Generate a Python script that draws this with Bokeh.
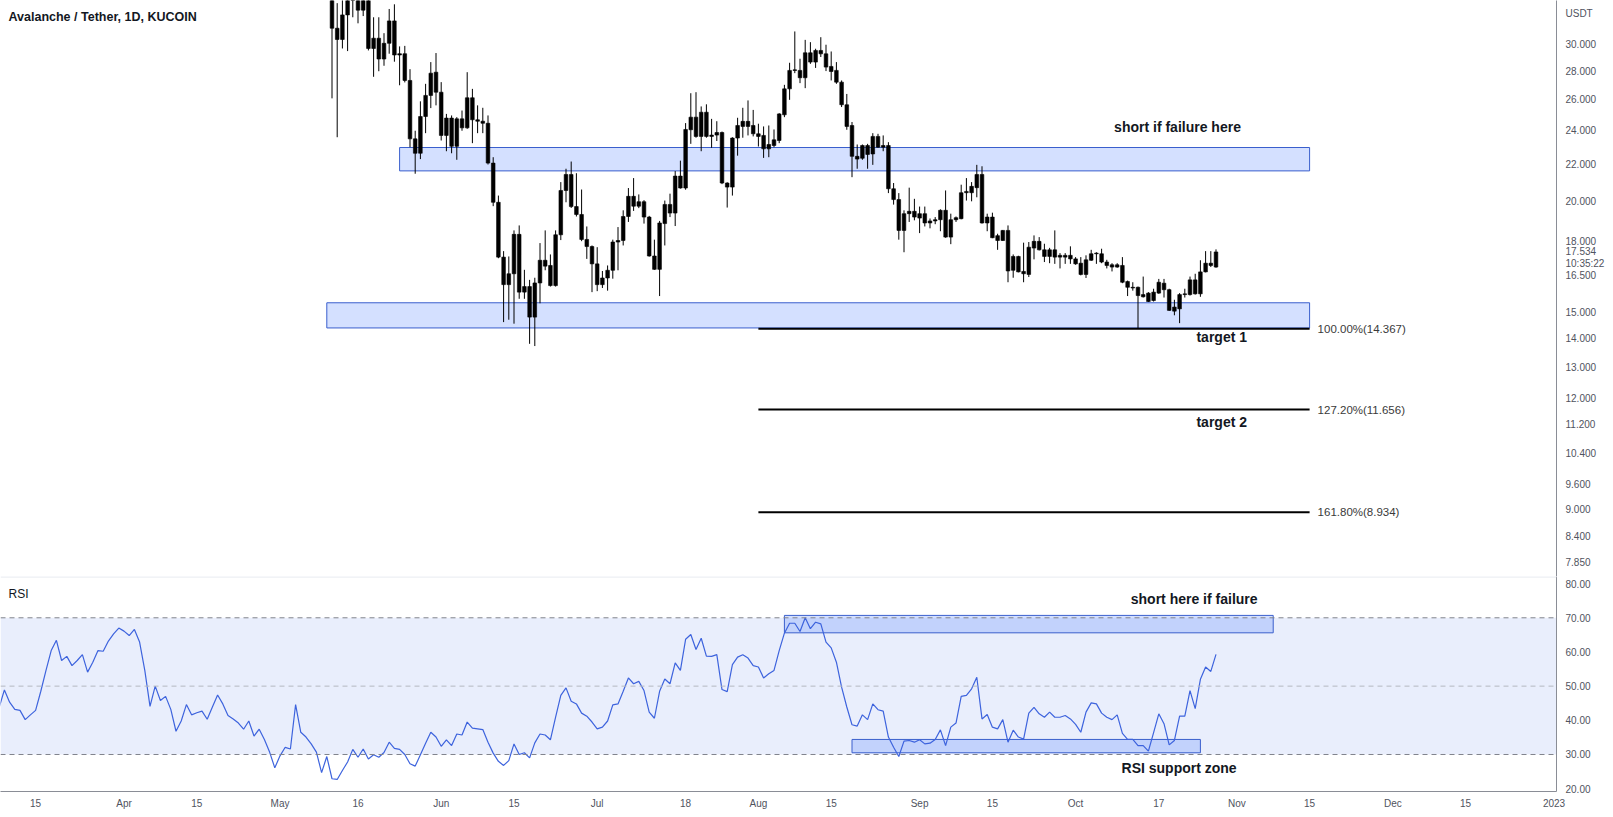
from datetime import date
from bokeh.plotting import figure
from bokeh.layouts import column
from bokeh.models import (Range1d, FixedTicker, PrintfTickFormatter, Label, BoxAnnotation,
                          Span, ColumnDataSource)
from bokeh.embed import file_html
from bokeh.resources import INLINE

# ---------------- data ----------------
title_text = "Avalanche / Tether, 1D, KUCOIN"

candle_start = "2022-05-11"   # daily candles, consecutive days
opens = [36.8, 31.3, 30.4, 32.4, 34.5, 34.8, 32.8, 34.2, 29.7, 30.5,
         28.9, 30.1, 31.9, 29.2, 29.3, 27.34, 23.5, 22.64, 24.9, 26.3,
         27.93, 26.52, 23.71, 24.8, 23.05, 24.75, 24.18, 26.14, 24.69, 24.6,
         24.47, 22.07, 19.94, 17.3, 16.11, 16.57, 18.35, 15.8, 16.03, 14.81,
         16.18, 17.16, 16.93, 16.07, 18.33, 20.56, 21.43, 19.72, 19.32, 18.11,
         17.78, 17.0, 16.11, 16.39, 16.72, 17.99, 18.06, 19.22, 20.25, 19.74,
         19.97, 19.19, 17.35, 16.76, 18.87, 19.83, 19.39, 21.34, 20.69, 24.06,
         24.86, 23.65, 25.18, 23.65, 23.73, 23.89, 20.96, 20.74, 23.55, 24.27,
         24.59, 24.33, 23.81, 23.71, 22.9, 23.1, 23.4, 25.01, 26.75, 28.06,
         28.06, 27.53, 29.37, 28.67, 29.55, 29.29, 28.35, 28.06, 27.22, 25.67,
         24.33, 22.46, 22.35, 23.1, 22.6, 23.65, 23.0, 23.1, 20.65, 20.08,
         18.54, 19.36, 19.48, 19.14, 19.36, 18.9, 19.0, 19.06, 19.53, 18.22,
         19.06, 19.11, 20.44, 20.44, 20.71, 21.43, 18.9, 19.19, 18.29, 18.06,
         18.54, 16.72, 17.33, 16.67, 16.54, 17.71, 18.02, 17.63, 17.33, 17.63,
         17.3, 17.38, 17.38, 17.22, 17.03, 16.54, 17.16, 17.45, 17.45, 17.08,
         16.96, 16.86, 16.93, 16.24, 16.0, 16.0, 15.61, 15.76, 15.46, 15.76,
         16.17, 15.9, 15.04, 15.13, 15.7, 15.7, 16.31, 15.73, 16.65, 17.03,
         16.86]
highs = [38.0, 33.4, 34.2, 35.5, 36.2, 35.4, 34.8, 34.5, 32.2, 32.2,
         30.9, 32.9, 33.3, 29.86, 29.9, 28.15, 24.0, 25.9, 27.1, 28.67,
         29.35, 27.22, 25.07, 24.97, 24.86, 25.29, 27.93, 26.75, 25.63, 25.47,
         24.97, 22.41, 20.29, 17.57, 17.33, 18.54, 18.78, 16.74, 16.31, 16.4,
         17.94, 18.54, 17.42, 18.54, 21.01, 21.75, 22.16, 21.5, 20.61, 18.73,
         17.83, 17.75, 16.69, 16.93, 18.1, 18.7, 19.53, 20.69, 21.23, 20.35,
         20.05, 19.25, 18.1, 19.0, 20.03, 20.39, 21.62, 22.21, 24.48, 26.45,
         26.52, 25.56, 25.7, 24.75, 24.6, 23.95, 21.0, 23.6, 24.82, 25.47,
         25.96, 25.33, 24.44, 24.27, 24.33, 24.08, 25.12, 27.03, 28.62, 31.04,
         28.92, 30.37, 30.19, 29.68, 30.58, 29.99, 29.47, 28.67, 27.34, 26.4,
         24.55, 23.16, 23.16, 23.2, 23.85, 23.81, 23.71, 23.3, 20.96, 20.42,
         19.53, 20.71, 20.12, 19.72, 19.72, 19.12, 19.19, 19.58, 20.56, 19.36,
         19.22, 20.87, 21.23, 21.01, 21.97, 21.89, 19.36, 19.41, 18.38, 18.56,
         18.78, 17.42, 17.36, 17.96, 17.99, 18.3, 18.22, 17.91, 17.72, 18.54,
         17.48, 17.48, 17.79, 17.3, 17.3, 17.38, 17.63, 17.52, 17.68, 17.18,
         17.03, 17.03, 17.3, 16.28, 16.21, 16.03, 16.45, 15.8, 15.94, 16.35,
         16.35, 15.94, 15.49, 15.76, 15.94, 16.45, 16.57, 17.16, 17.57, 17.57,
         17.65]
lows = [26.1, 23.6, 29.7, 29.5, 32.2, 31.7, 32.3, 29.55, 27.6, 28.0,
        28.4, 29.3, 28.7, 27.0, 27.2, 23.0, 21.47, 22.3, 23.85, 25.45,
        25.63, 23.4, 22.76, 22.64, 22.26, 24.0, 24.12, 23.24, 23.85, 23.85,
        21.99, 19.74, 17.25, 14.62, 14.71, 14.56, 15.53, 15.53, 13.82, 13.74,
        15.35, 16.72, 16.03, 16.03, 18.08, 19.94, 19.65, 19.22, 18.03, 17.22,
        15.8, 15.84, 15.97, 15.86, 16.36, 16.72, 17.83, 18.95, 19.5, 19.64,
        18.87, 17.32, 16.74, 15.64, 17.83, 19.19, 18.75, 20.66, 20.6, 23.2,
        23.57, 22.76, 23.57, 22.96, 23.37, 20.9, 19.67, 20.29, 22.5, 23.57,
        23.71, 23.65, 23.04, 22.37, 22.41, 23.0, 23.24, 24.86, 26.0, 27.86,
        27.15, 26.8, 28.54, 28.24, 29.05, 28.01, 27.34, 27.1, 25.52, 24.06,
        21.28, 21.75, 22.26, 21.75, 21.97, 22.96, 22.76, 20.42, 19.82, 18.1,
        17.52, 18.95, 19.03, 18.41, 18.73, 18.64, 18.84, 18.5, 18.19, 17.89,
        18.95, 19.08, 20.03, 19.99, 20.2, 18.87, 18.5, 18.17, 17.63, 18.04,
        16.21, 16.4, 16.63, 16.21, 16.43, 17.2, 17.6, 17.08, 17.03, 17.0,
        16.8, 17.0, 17.0, 16.96, 16.5, 16.39, 17.13, 17.0, 17.03, 16.8,
        16.67, 16.83, 16.17, 15.64, 15.86, 14.37, 15.58, 15.4, 15.42, 15.73,
        15.58, 15.05, 14.88, 14.58, 15.58, 15.66, 15.7, 15.61, 16.63, 16.86,
        16.83]
closes = [31.3, 30.4, 32.4, 34.5, 34.8, 32.8, 34.2, 29.7, 30.5, 28.9,
          30.1, 31.9, 29.2, 29.3, 27.34, 23.5, 22.64, 24.9, 26.3, 27.86,
          26.52, 23.71, 24.8, 23.05, 24.75, 24.18, 26.14, 24.69, 24.6, 24.47,
          22.07, 19.94, 17.3, 16.11, 16.57, 18.35, 15.8, 16.03, 14.81, 16.18,
          17.16, 16.9, 16.07, 18.33, 20.56, 21.43, 19.72, 19.32, 18.11, 17.78,
          17.0, 16.11, 16.39, 16.72, 17.99, 18.06, 19.22, 20.25, 19.74, 19.97,
          19.19, 17.35, 16.76, 18.9, 19.83, 19.39, 21.34, 20.69, 24.08, 24.86,
          23.65, 25.18, 23.65, 23.73, 23.89, 20.96, 20.74, 23.55, 24.33, 24.59,
          24.27, 23.81, 23.65, 22.9, 23.16, 23.44, 25.07, 26.75, 28.06, 28.1,
          27.53, 29.37, 28.67, 29.55, 29.29, 28.3, 27.98, 27.22, 25.67, 24.27,
          22.46, 22.3, 23.1, 22.57, 23.65, 23.0, 23.1, 20.65, 20.08, 18.54,
          19.36, 19.48, 19.19, 19.36, 18.9, 19.0, 19.06, 19.53, 18.22, 19.06,
          19.16, 20.44, 20.51, 20.78, 21.43, 18.9, 19.19, 18.19, 18.06, 18.54,
          16.69, 17.33, 16.65, 16.57, 17.75, 18.02, 17.63, 17.33, 17.63, 17.3,
          17.38, 17.3, 17.22, 17.0, 16.54, 17.18, 17.45, 17.48, 17.08, 16.93,
          16.86, 16.96, 16.21, 16.0, 15.97, 15.66, 15.7, 15.42, 15.8, 16.21,
          15.9, 15.07, 15.2, 15.7, 15.73, 16.31, 15.73, 16.65, 17.03, 16.93,
          17.534]

rsi_start = "2022-03-08"      # daily RSI values, consecutive days
rsi_values = [43.8, 48.9, 45.3, 43.2, 42.9, 40.2, 41.6, 42.9, 48.5, 54.6,
              60.4, 63.4, 57.5, 58.7, 56.0, 57.5, 59.2, 54.1, 57.0, 60.4,
              60.2, 63.2, 65.3, 67.0, 66.1, 64.8, 66.6, 62.9, 54.6, 44.1,
              50.0, 45.8, 47.0, 43.2, 36.8, 39.8, 44.6, 41.6, 42.2, 42.7,
              40.3, 43.9, 47.4, 44.8, 41.4, 40.4, 39.2, 37.4, 39.8, 35.4,
              37.4, 34.4, 30.7, 26.1, 29.6, 32.1, 31.6, 44.6, 36.5, 35.1,
              33.1, 30.7, 24.7, 29.4, 22.9, 22.7, 25.3, 27.8, 31.5, 29.2,
              31.6, 28.7, 29.9, 29.2, 30.6, 33.6, 31.8, 31.5, 30.0, 27.3,
              26.6, 29.9, 33.3, 36.5, 35.1, 32.4, 34.3, 32.6, 36.0, 35.7,
              39.5, 37.7, 37.5, 37.3, 33.6, 30.4, 28.0, 26.8, 28.2, 33.1,
              30.0, 30.5, 29.0, 33.4, 36.0, 35.7, 34.3, 40.9, 47.3, 49.5,
              45.6, 44.8, 42.1, 41.2, 39.5, 37.5, 38.0, 39.8, 44.5, 44.8,
              48.5, 52.4, 50.7, 51.4, 48.7, 42.4, 40.6, 48.5, 52.1, 50.7,
              56.8, 54.6, 63.7, 65.1, 60.7, 64.0, 58.8, 58.7, 59.2, 49.0,
              48.4, 56.3, 58.5, 59.2, 58.2, 56.0, 55.6, 52.4, 53.6, 54.6,
              60.4, 65.5, 68.4, 68.4, 66.0, 70.0, 66.8, 68.7, 68.2, 62.9,
              61.2, 57.0, 49.7, 43.9, 38.7, 38.3, 41.6, 40.2, 44.8, 43.1,
              42.7, 35.1, 32.1, 29.4, 33.9, 34.1, 33.6, 34.3, 33.1, 33.3,
              34.4, 37.2, 32.6, 38.0, 39.2, 47.0, 47.3, 49.2, 52.6, 40.4,
              41.7, 38.0, 37.5, 40.2, 33.6, 37.1, 35.1, 34.5, 42.1, 43.8,
              41.9, 40.9, 42.4, 40.9, 40.9, 41.4, 40.4, 38.8, 36.5, 42.4,
              45.1, 44.8, 42.1, 40.9, 40.2, 41.6, 36.2, 34.4, 34.4, 32.6,
              32.6, 31.0, 36.4, 41.9, 39.0, 32.8, 34.1, 41.2, 41.2, 48.7,
              43.4, 52.0, 55.6, 54.3, 59.3]

price_ticks = [7.85, 8.4, 9.0, 9.6, 10.4, 11.2, 12.0, 13.0, 14.0, 15.0,
               16.5, 18.0, 20.0, 22.0, 24.0, 26.0, 28.0, 30.0]
rsi_ticks = [20, 30, 40, 50, 60, 70, 80]
date_tick_dates = ["2022-03-15", "2022-04-01", "2022-04-15", "2022-05-01", "2022-05-16",
                   "2022-06-01", "2022-06-15", "2022-07-01", "2022-07-18", "2022-08-01",
                   "2022-08-15", "2022-09-01", "2022-09-15", "2022-10-01", "2022-10-17",
                   "2022-11-01", "2022-11-15", "2022-12-01", "2022-12-15", "2023-01-01"]
date_tick_labels = ["15", "Apr", "15", "May", "16", "Jun", "15", "Jul", "18", "Aug",
                    "15", "Sep", "15", "Oct", "17", "Nov", "15", "Dec", "15", "2023"]

# price zones (rectangles)
pzone_start = ["2022-05-24", "2022-05-10"]
pzone_end = ["2022-11-15", "2022-11-15"]
pzone_top = [22.98, 15.37]
pzone_bottom = [21.63, 14.40]

# fib extension levels
fib_start = "2022-08-01"
fib_end = "2022-11-15"
fib_levels = [14.367, 11.656, 8.934]
fib_labels = ["100.00%(14.367)", "127.20%(11.656)", "161.80%(8.934)"]

# RSI zones
rzone_start = ["2022-08-06", "2022-08-19"]
rzone_end = ["2022-11-08", "2022-10-25"]
rzone_top = [70.7, 34.4]
rzone_bottom = [65.6, 30.5]

currency = "USDT"
last_price = 17.534
countdown = "10:35:22"

# ---------------- helpers ----------------
BASE = date(2022, 3, 1)


def dnum(s):
    y, m, d = map(int, s.split("-"))
    return (date(y, m, d) - BASE).days


FONT = "Liberation Sans"
TXT = "#131722"
AX = "#50535e"

xr = Range1d(7.25, 306.48)

c0 = dnum(candle_start)
cx = [c0 + i for i in range(len(opens))]
src = ColumnDataSource(dict(
    x=cx, high=highs, low=lows,
    top=[max(o, c) for o, c in zip(opens, closes)],
    bot=[min(o, c) for o, c in zip(opens, closes)]))

r0 = dnum(rsi_start)
rx = [r0 + i for i in range(len(rsi_values))]

# ---------------- price panel ----------------
p1 = figure(width=1613, height=576, x_range=xr, y_range=Range1d(7.564, 33.63),
            y_axis_type="log", y_axis_location="right", x_axis_location=None,
            toolbar_location=None, output_backend="svg",
            min_border_left=0, min_border_right=57, min_border_top=0, min_border_bottom=0)
p1.outline_line_color = None
p1.grid.grid_line_color = None
p1.background_fill_color = "white"
p1.border_fill_color = "white"

# extra axis entries: currency name at the top, last price and countdown
cur_pos, cd_pos = 32.48, 17.01
ya = p1.yaxis[0]
ya.ticker = FixedTicker(ticks=price_ticks + [cur_pos, last_price, cd_pos], minor_ticks=[])
ya.formatter = PrintfTickFormatter(format="%.3f")
ya.major_label_overrides = {cur_pos: currency, last_price: "%.3f" % last_price,
                            cd_pos: countdown}
ya.major_tick_line_color = None
ya.minor_tick_line_color = None
ya.major_tick_out = 0
ya.major_label_standoff = 9
ya.major_label_text_font = FONT
ya.major_label_text_font_size = "10px"
ya.major_label_text_color = AX
ya.axis_line_color = "#8a8d96"

p1.quad(left=[dnum(s) for s in pzone_start], right=[dnum(s) for s in pzone_end],
        top=pzone_top, bottom=pzone_bottom,
        fill_color="#2962ff", fill_alpha=0.2, line_color="#3a5fcd", line_width=1)

fx0, fx1 = dnum(fib_start), dnum(fib_end)
p1.segment(x0=[fx0] * len(fib_levels), x1=[fx1] * len(fib_levels),
           y0=fib_levels, y1=fib_levels, line_color="black", line_width=2)
for lv, lb in zip(fib_levels, fib_labels):
    p1.add_layout(Label(x=fx1, y=lv, x_offset=8, text=lb, text_align="left",
                        text_baseline="middle", text_font=FONT,
                        text_font_size="11.5px", text_color="#3a3a3a"))

p1.segment(x0="x", y0="low", x1="x", y1="high", source=src, line_color="black", line_width=1)
p1.vbar(x="x", width=0.7, top="top", bottom="bot", source=src,
        fill_color="black", line_color="black", line_width=0.6)

p1.add_layout(Label(x=xr.start, y=32.2, x_offset=8, text=title_text, text_align="left",
                    text_baseline="middle", text_font=FONT, text_font_style="bold",
                    text_font_size="12.5px", text_color=TXT))
p1.add_layout(Label(x=233.6, y=24.23, text="short if failure here", text_align="center",
                    text_baseline="middle", text_font=FONT, text_font_style="bold",
                    text_font_size="14px", text_color=TXT))
p1.add_layout(Label(x=242.1, y=14.07, text="target 1", text_align="center",
                    text_baseline="middle", text_font=FONT, text_font_style="bold",
                    text_font_size="14px", text_color=TXT))
p1.add_layout(Label(x=242.1, y=11.28, text="target 2", text_align="center",
                    text_baseline="middle", text_font=FONT, text_font_style="bold",
                    text_font_size="14px", text_color=TXT))

# ---------------- RSI panel ----------------
p2 = figure(width=1613, height=241, x_range=xr, y_range=Range1d(19.17, 82.08),
            y_axis_location="right", x_axis_location="below",
            toolbar_location=None, output_backend="svg",
            min_border_left=0, min_border_right=57, min_border_top=0, min_border_bottom=26)
p2.outline_line_color = None
p2.grid.grid_line_color = None
p2.background_fill_color = "white"
p2.border_fill_color = "white"

ry = p2.yaxis[0]
ry.ticker = FixedTicker(ticks=rsi_ticks, minor_ticks=[])
ry.formatter = PrintfTickFormatter(format="%.2f")
ry.major_tick_line_color = None
ry.minor_tick_line_color = None
ry.major_tick_out = 0
ry.major_label_standoff = 9
ry.major_label_text_font = FONT
ry.major_label_text_font_size = "10px"
ry.major_label_text_color = AX
ry.axis_line_color = "#8a8d96"

xa = p2.xaxis[0]
tick_pos = [dnum(s) for s in date_tick_dates]
xa.ticker = FixedTicker(ticks=tick_pos, minor_ticks=[])
xa.major_label_overrides = {t: l for t, l in zip(tick_pos, date_tick_labels)}
xa.major_tick_line_color = None
xa.minor_tick_line_color = None
xa.major_tick_out = 0
xa.major_label_standoff = 6
xa.major_label_text_font = FONT
xa.major_label_text_font_size = "10px"
xa.major_label_text_color = AX
xa.axis_line_color = "#8a8d96"

p2.add_layout(BoxAnnotation(bottom=30, top=70, fill_color="#e9eefc", fill_alpha=1.0,
                            line_color=None, level="underlay"))
p2.add_layout(Span(location=70, dimension="width", line_color="#80838c",
                   line_dash="5 4", line_width=1))
p2.add_layout(Span(location=50, dimension="width", line_color="#b5b8c0",
                   line_dash="5 4", line_width=1))
p2.add_layout(Span(location=30, dimension="width", line_color="#80838c",
                   line_dash="5 4", line_width=1))
p2.add_layout(Span(location=81.95, dimension="width", line_color="#e0e3eb", line_width=1))

p2.quad(left=[dnum(s) for s in rzone_start], right=[dnum(s) for s in rzone_end],
        top=rzone_top, bottom=rzone_bottom,
        fill_color="#2962ff", fill_alpha=0.2, line_color="#3a5fcd", line_width=1)

p2.line(rx, rsi_values, line_color="#3d63dd", line_width=1.2)

p2.add_layout(Label(x=xr.start, y=77.1, x_offset=8, text="RSI", text_align="left",
                    text_baseline="middle", text_font=FONT, text_font_size="12px",
                    text_color=TXT))
p2.add_layout(Label(x=236.8, y=75.56, text="short here if failure", text_align="center",
                    text_baseline="middle", text_font=FONT, text_font_style="bold",
                    text_font_size="14px", text_color=TXT))
p2.add_layout(Label(x=233.9, y=26.0, text="RSI support zone", text_align="center",
                    text_baseline="middle", text_font=FONT, text_font_style="bold",
                    text_font_size="14px", text_color=TXT))

layout = column(p1, p2, spacing=0)
open("out.html", "w").write(file_html(layout, INLINE))
